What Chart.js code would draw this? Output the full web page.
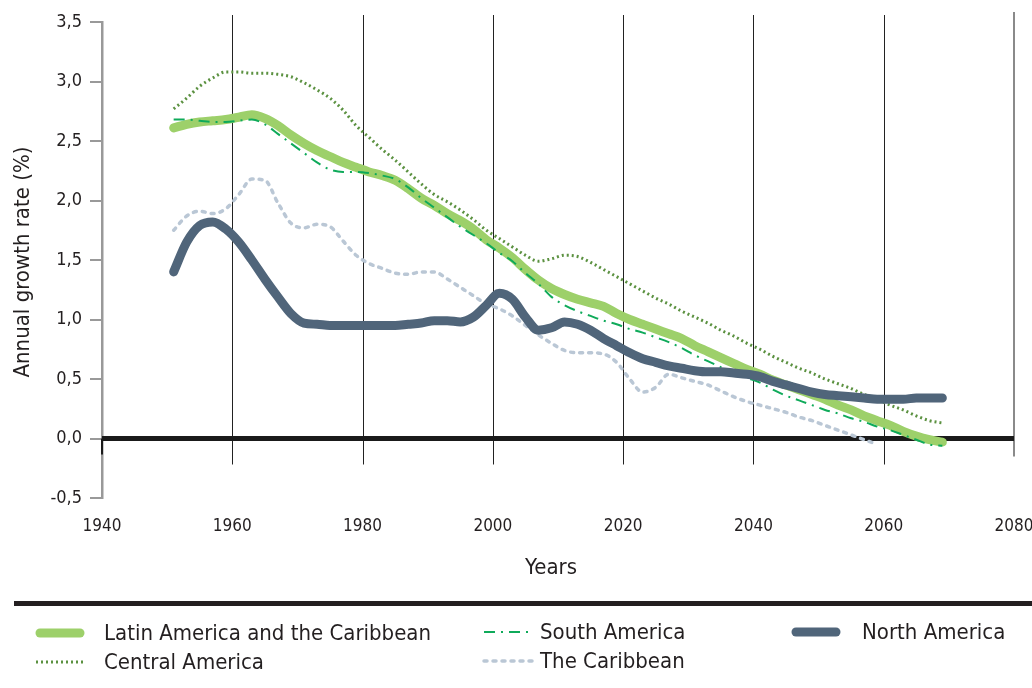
<!DOCTYPE html>
<html>
<head>
<meta charset="utf-8">
<script src="https://cdn.jsdelivr.net/npm/chart.js@4.4.0/dist/chart.umd.min.js"></script>
<style>
  html, body { margin: 0; padding: 0; background: #fff; }
</style>
</head>
<body>
<canvas id="growthChart" width="1032" height="688"></canvas>
<script>
// years (x values shared by every series)
const years = [
  1951, 1953, 1955, 1957, 1959, 1961, 1963, 1965, 1967, 1969,
  1971, 1973, 1975, 1977, 1979, 1981, 1983, 1985, 1987, 1989,
  1991, 1993, 1995, 1997, 1999, 2001, 2003, 2005, 2007, 2009,
  2011, 2013, 2015, 2017, 2019, 2021, 2023, 2025, 2027, 2029,
  2031, 2033, 2035, 2037, 2039, 2041, 2043, 2045, 2047, 2049,
  2051, 2053, 2055, 2057, 2059, 2061, 2063, 2065, 2067, 2069
];

const latinAmerica = [
  2.61, 2.64, 2.66, 2.67, 2.68, 2.70, 2.72, 2.69, 2.63, 2.55,
  2.48, 2.42, 2.37, 2.32, 2.28, 2.24, 2.21, 2.17, 2.10, 2.02,
  1.96, 1.89, 1.83, 1.76, 1.67, 1.60, 1.52, 1.42, 1.33, 1.26,
  1.21, 1.17, 1.14, 1.11, 1.05, 1.00, 0.96, 0.92, 0.88, 0.84,
  0.78, 0.73, 0.68, 0.63, 0.58, 0.54, 0.49, 0.45, 0.41, 0.37,
  0.33, 0.28, 0.24, 0.19, 0.15, 0.11, 0.06, 0.02, -0.01, -0.03
];

const southAmerica = [
  2.68, 2.68, 2.67, 2.66, 2.66, 2.67, 2.68, 2.64, 2.56, 2.48,
  2.40, 2.32, 2.26, 2.24, 2.24, 2.23, 2.21, 2.18, 2.11, 2.02,
  1.94, 1.86, 1.78, 1.71, 1.64, 1.56, 1.49, 1.39, 1.30, 1.19,
  1.12, 1.07, 1.03, 0.99, 0.96, 0.92, 0.89, 0.85, 0.81, 0.76,
  0.70, 0.65, 0.60, 0.55, 0.51, 0.47, 0.41, 0.36, 0.32, 0.28,
  0.24, 0.21, 0.17, 0.14, 0.10, 0.07, 0.03, -0.01, -0.05, -0.06
];

const centralAmerica = [
  2.77, 2.86, 2.96, 3.03, 3.08, 3.08, 3.07, 3.07, 3.06, 3.04,
  2.99, 2.93, 2.86, 2.76, 2.63, 2.53, 2.43, 2.34, 2.24, 2.14,
  2.05, 1.99, 1.92, 1.84, 1.75, 1.68, 1.61, 1.54, 1.49, 1.51,
  1.54, 1.53, 1.48, 1.42, 1.36, 1.30, 1.24, 1.18, 1.13, 1.07,
  1.02, 0.97, 0.91, 0.86, 0.80, 0.75, 0.69, 0.64, 0.59, 0.55,
  0.50, 0.46, 0.42, 0.37, 0.33, 0.28, 0.24, 0.19, 0.15, 0.13
];

const caribbean = [
  1.75, 1.87, 1.91, 1.89, 1.93, 2.05, 2.18, 2.17, 1.98, 1.81,
  1.77, 1.80, 1.78, 1.66, 1.54, 1.47, 1.43, 1.39, 1.38, 1.40,
  1.40, 1.34, 1.27, 1.20, 1.13, 1.09, 1.03, 0.95, 0.87, 0.80,
  0.74, 0.72, 0.72, 0.71, 0.64, 0.50, 0.39, 0.43, 0.54, 0.51,
  0.48, 0.45, 0.40, 0.35, 0.31, 0.28, 0.25, 0.22, 0.18, 0.15,
  0.11, 0.07, 0.03, -0.01, -0.05, null, null, null, null, null
];

const northAmerica = [
  1.40, 1.65, 1.79, 1.82, 1.76, 1.65, 1.50, 1.34, 1.19, 1.05,
  0.97, 0.96, 0.95, 0.95, 0.95, 0.95, 0.95, 0.95, 0.96, 0.97,
  0.99, 0.99, 0.98, 1.02, 1.12, 1.22, 1.17, 1.02, 0.91, 0.93,
  0.98, 0.96, 0.91, 0.84, 0.78, 0.72, 0.67, 0.64, 0.61, 0.59,
  0.57, 0.56, 0.56, 0.55, 0.54, 0.52, 0.48, 0.45, 0.42, 0.39,
  0.37, 0.36, 0.35, 0.34, 0.33, 0.33, 0.33, 0.34, 0.34, 0.34
];

const gridYears = [1960, 1980, 2000, 2020, 2040, 2060];

const FONT = "'Liberation Sans Narrow', 'DejaVu Sans Condensed', 'Roboto', sans-serif";

function toPoints(vals) {
  return years.map((yr, i) => ({ x: yr, y: vals[i] }));
}

// where each legend entry sits: swatch start, text start, baseline row
const legendSlots = [
  { label: "Latin America and the Caribbean", x: 36, tx: 104, y: 633 },
  { label: "Central America", x: 36, tx: 104, y: 662 },
  { label: "South America", x: 484, tx: 540, y: 632 },
  { label: "The Caribbean", x: 484, tx: 540, y: 661 },
  { label: "North America", x: 792, tx: 862, y: 632 }
];

const framePlugin = {
  id: "frame",
  beforeDatasetsDraw(chart) {
    const { ctx, chartArea, scales } = chart;
    const x = scales.x, y = scales.y;
    const zeroY = y.getPixelForValue(0);
    ctx.save();
    // vertical grid lines
    ctx.strokeStyle = "#222";
    ctx.lineWidth = 1;
    gridYears.forEach((yr) => {
      const px = Math.round(x.getPixelForValue(yr)) + 0.5;
      ctx.beginPath();
      ctx.moveTo(px, chartArea.top - 7);
      ctx.lineTo(px, zeroY + 26);
      ctx.stroke();
    });
    // right frame line
    ctx.strokeStyle = "#8a8a8a";
    ctx.lineWidth = 2;
    ctx.beginPath();
    ctx.moveTo(chartArea.right, chartArea.top - 10);
    ctx.lineTo(chartArea.right, zeroY + 18);
    ctx.stroke();
    // zero line
    ctx.strokeStyle = "#1a1a1a";
    ctx.lineWidth = 5;
    ctx.beginPath();
    ctx.moveTo(chartArea.left, zeroY);
    ctx.lineTo(chartArea.right, zeroY);
    ctx.stroke();
    ctx.lineWidth = 2;
    ctx.beginPath();
    ctx.moveTo(chartArea.left, zeroY);
    ctx.lineTo(chartArea.left, zeroY + 16);
    ctx.stroke();
    ctx.restore();
  },
  afterDraw(chart) {
    const { ctx } = chart;
    ctx.save();
    ctx.fillStyle = "#231f20";
    // axis titles
    ctx.font = "22px " + FONT;
    ctx.textAlign = "center";
    ctx.textBaseline = "middle";
    ctx.fillText("Years", 551, 568);
    ctx.save();
    ctx.translate(23, 262);
    ctx.rotate(-Math.PI / 2);
    ctx.fillText("Annual growth rate (%)", 0, 0);
    ctx.restore();
    // separator
    ctx.fillRect(14, 601, 1018, 5);
    // legend
    chart.data.datasets.forEach((ds) => {
      const slot = legendSlots.find((s) => s.label === ds.label);
      if (!slot) return;
      ctx.save();
      ctx.strokeStyle = ds.borderColor;
      ctx.lineWidth = ds.borderWidth;
      ctx.lineCap = ds.borderCapStyle || "butt";
      ctx.setLineDash(ds.borderDash || []);
      const inset = ds.borderWidth > 5 ? 4 : 0;
      ctx.beginPath();
      ctx.moveTo(slot.x + inset, slot.y);
      ctx.lineTo(slot.x + 48 - inset, slot.y);
      ctx.stroke();
      ctx.restore();
      ctx.fillStyle = "#231f20";
      ctx.font = "22px " + FONT;
      ctx.textAlign = "left";
      ctx.textBaseline = "middle";
      ctx.fillText(ds.label, slot.tx, slot.y + 1);
    });
    ctx.restore();
  }
};

new Chart(document.getElementById("growthChart").getContext("2d"), {
  type: "line",
  data: {
    datasets: [
      {
        label: "North America",
        data: toPoints(northAmerica),
        borderColor: "#50657a",
        borderWidth: 9,
        borderCapStyle: "round",
        borderJoinStyle: "round",
        order: 0
      },
      {
        label: "Central America",
        data: toPoints(centralAmerica),
        borderColor: "#5b9140",
        borderWidth: 3,
        borderDash: [2, 3],
        order: 1
      },
      {
        label: "South America",
        data: toPoints(southAmerica),
        borderColor: "#0faa5a",
        borderWidth: 2,
        borderDash: [11, 6, 2, 6],
        order: 2
      },
      {
        label: "Latin America and the Caribbean",
        data: toPoints(latinAmerica),
        borderColor: "#9dd06a",
        borderWidth: 9,
        borderCapStyle: "round",
        borderJoinStyle: "round",
        order: 3
      },
      {
        label: "The Caribbean",
        data: toPoints(caribbean),
        borderColor: "#bac7d5",
        borderWidth: 3.5,
        borderCapStyle: "round",
        borderDash: [3, 6],
        order: 4
      }
    ]
  },
  options: {
    responsive: false,
    animation: false,
    layout: { padding: { left: 0, right: 18, top: 22, bottom: 0 } },
    elements: {
      point: { radius: 0 },
      line: { tension: 0.35, cubicInterpolationMode: "monotone", fill: false }
    },
    scales: {
      x: {
        type: "linear",
        min: 1940,
        max: 2080,
        ticks: {
          stepSize: 20,
          color: "#231f20",
          font: { family: FONT, size: 17 },
          padding: 10,
          maxRotation: 0,
          callback: (v) => String(v)
        },
        grid: { display: false },
        border: { display: false },
        afterFit: (scale) => {
          scale.height = 190;
          scale.paddingLeft = 0;
          scale.paddingRight = 0;
        }
      },
      y: {
        min: -0.5,
        max: 3.5,
        ticks: {
          stepSize: 0.5,
          color: "#231f20",
          font: { family: FONT, size: 18 },
          padding: 8,
          callback: (v) => v.toFixed(1).replace(".", ",")
        },
        grid: { drawOnChartArea: false, drawTicks: true, tickLength: 12, color: "#999", lineWidth: 2 },
        border: { display: true, color: "#999", width: 2.5 },
        afterFit: (scale) => { scale.width = 102; }
      }
    },
    plugins: {
      legend: { display: false },
      tooltip: { enabled: false }
    }
  },
  plugins: [framePlugin]
});
</script>
</body>
</html>
